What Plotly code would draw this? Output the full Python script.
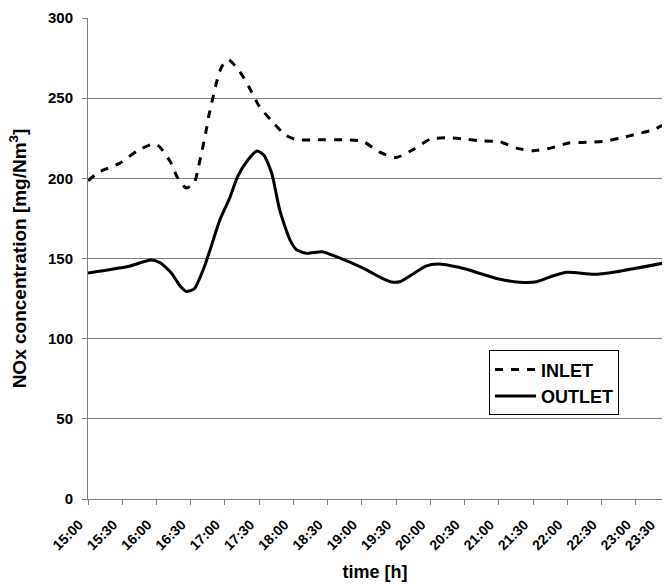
import plotly.graph_objects as go

# ---- data ----
inlet_time = ["15:00", "15:10", "15:28", "15:44", "15:58", "16:03", "16:12", "16:18",
              "16:26", "16:33", "16:37", "16:40", "16:43", "16:46", "16:49", "16:53",
              "16:57", "17:03", "17:13", "17:21", "17:30", "17:40", "17:53", "18:03",
              "18:17", "18:47", "19:01", "19:15", "19:30", "19:45", "20:00", "20:17",
              "20:32", "20:46", "21:01", "21:16", "21:30", "21:46", "22:01", "22:17",
              "22:31", "22:46", "23:01", "23:15", "23:23"]
inlet_val = [198.5, 204, 209.5, 217.5, 221.5, 219.5, 210.5, 201,
             194, 197, 208, 217.5, 228, 239.5, 249, 261,
             269.5, 274, 266.5, 257, 245, 236.5, 227, 224,
             224, 224, 223, 216.5, 213, 218, 224.5, 225.3,
             224.3, 223.3, 222.7, 218.7, 217.2, 219, 222, 222.5,
             223, 225, 227.7, 230.2, 233]

outlet_time = ["15:00", "15:35", "15:55", "16:03", "16:13", "16:20", "16:26", "16:33",
               "16:42", "16:56", "17:04", "17:11", "17:20", "17:28", "17:34", "17:41",
               "17:48", "17:57", "18:03", "18:12", "18:25", "18:38", "19:01", "19:16",
               "19:25", "19:33", "19:56", "20:06", "20:25", "21:00", "21:18", "21:33",
               "21:47", "22:00", "22:23", "22:43", "23:23"]
outlet_val = [141, 145, 149, 147.4, 141, 133.5, 129.5, 131,
              145, 175, 187.5, 201, 211.4, 217, 214.6, 203,
              180, 161.5, 155.3, 153.2, 154.2, 151, 144, 138.3,
              135.5, 135.5, 145.3, 146.6, 144.5, 137.2, 135.2, 135.5,
              139.1, 141.4, 140.1, 141.8, 147]

tick_labels = ["15:00", "15:30", "16:00", "16:30", "17:00", "17:30", "18:00", "18:30",
               "19:00", "19:30", "20:00", "20:30", "21:00", "21:30", "22:00", "22:30",
               "23:00", "23:30"]
y_ticks = [0, 50, 100, 150, 200, 250, 300]


def to_hours(s):
    h, m = s.split(":")
    return int(h) + int(m) / 60.0


FONT = "Arial, Liberation Sans, sans-serif"
GRID = "#7f7f7f"

x_in = [to_hours(t) for t in inlet_time]
x_out = [to_hours(t) for t in outlet_time]
tick_pos = [to_hours(t) for t in tick_labels]

X_MIN, X_MAX = 15.0, 23.38

fig = go.Figure()
fig.add_trace(go.Scatter(
    x=x_in, y=inlet_val, mode="lines", name="INLET",
    line=dict(color="black", width=3, dash="8px,8px", shape="spline", smoothing=0.6),
))
fig.add_trace(go.Scatter(
    x=x_out, y=outlet_val, mode="lines", name="OUTLET",
    line=dict(color="black", width=3, shape="spline", smoothing=0.6),
))

shown = [(p, l) for p, l in zip(tick_pos, tick_labels) if p <= X_MAX]
hidden = [(p, l) for p, l in zip(tick_pos, tick_labels) if p > X_MAX]

fig.update_layout(
    width=664, height=584,
    margin=dict(l=88, r=2, t=18, b=85, autoexpand=False),
    paper_bgcolor="white", plot_bgcolor="white",
    font=dict(family=FONT, color="black"),
    showlegend=True,
    legend=dict(
        x=0.6986, y=0.309, xanchor="left", yanchor="top",
        bordercolor="black", borderwidth=1, bgcolor="white",
        font=dict(family=FONT, size=18, color="black", weight="bold"),
        itemwidth=41, tracegroupgap=0,
    ),
    xaxis=dict(
        range=[X_MIN, X_MAX],
        automargin=False,
        tickmode="array",
        tickvals=[p for p, _ in shown],
        ticktext=[l for _, l in shown],
        tickangle=-45,
        ticklabelshift=-9, ticklabelstandoff=6,
        ticks="outside", ticklen=5, tickcolor=GRID,
        showline=True, linecolor=GRID, linewidth=1,
        showgrid=False, zeroline=False,
        tickfont=dict(family=FONT, size=14, color="black", weight="bold"),
        title=dict(text="time [h]", standoff=13,
                   font=dict(family=FONT, size=18, color="black", weight="bold")),
    ),
    yaxis=dict(
        range=[0, 300],
        automargin=False,
        tickmode="array", tickvals=y_ticks,
        ticks="outside", ticklen=5, tickcolor=GRID,
        ticklabelstandoff=6,
        showline=True, linecolor=GRID, linewidth=1,
        showgrid=True, gridcolor=GRID, gridwidth=1,
        zeroline=False,
        tickfont=dict(family=FONT, size=15, color="black", weight="bold"),
        title=dict(text="NOx concentration [mg/Nm<sup>3</sup>]", standoff=16,
                   font=dict(family=FONT, size=19, color="black", weight="bold")),
    ),
)

# label of the last half-hour mark, which lies just past the plotted range
for p, l in hidden:
    fig.add_annotation(
        x=(p - X_MIN) / (X_MAX - X_MIN), xref="paper",
        y=-0.031, yref="paper",
        text=l, showarrow=False, textangle=-45,
        xanchor="right", yanchor="top",
        xshift=-9,
        font=dict(family=FONT, size=14, color="black", weight="bold"),
    )

fig.write_html("out.html", config={"displayModeBar": False},
               post_script="document.body.style.margin='0';")
